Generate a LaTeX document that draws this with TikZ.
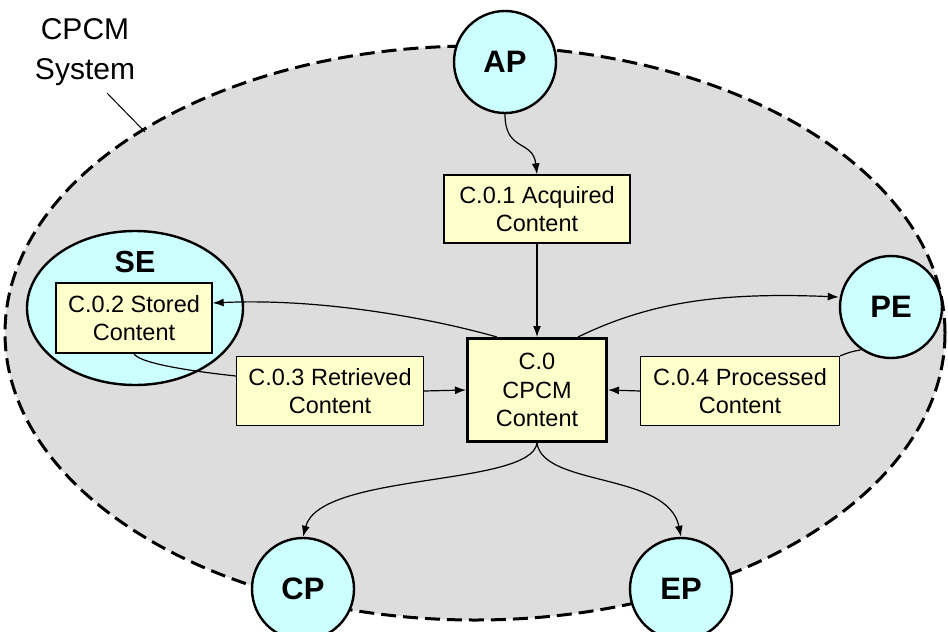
\documentclass[tikz,border=0pt]{standalone}
\usepackage{fontspec}
\setmainfont{Liberation Sans}
\usetikzlibrary{arrows.meta,shapes.geometric}
\definecolor{bggray}{HTML}{DDDDDD}
\definecolor{cyanfill}{HTML}{CCFFFF}
\definecolor{boxfill}{HTML}{FFFFCC}
\tikzset{
  sysell/.style={draw=black, fill=bggray, line width=3pt, dash pattern=on 15pt off 7pt, ellipse},
  actor/.style={circle, draw=black, fill=cyanfill, line width=2.4pt, minimum size=102pt, inner sep=0pt, font=\fontsize{31}{36}\selectfont\bfseries},
  contbox/.style={rectangle, draw=black, fill=boxfill, line width=1.3pt, align=center, inner sep=0pt, font=\fontsize{23.5}{28.5}\selectfont},
  flow/.style={line width=1.2pt, -{Latex[length=11pt,width=8pt]}},
  plain/.style={line width=1.2pt},
}
\begin{document}
\begin{tikzpicture}[x=1pt,y=-1pt]
\useasboundingbox (0,0) rectangle (948,632);
% system boundary
\node[sysell, minimum width=940pt, minimum height=574pt, inner sep=0pt] (sys) at (475,333) {};
\node[font=\fontsize{30}{40}\selectfont, align=center] (syslbl) at (85,52) {CPCM\\System};
\coordinate (lead1) at (107,93);
\coordinate (lead2) at (145,132);
\draw[line width=1pt] (lead1) -- (lead2);
% storage entity
\node[ellipse, draw=black, fill=cyanfill, line width=2.4pt, minimum width=216pt, minimum height=154pt, inner sep=0pt] (se) at (135,308) {};
\node[font=\fontsize{30.5}{36}\selectfont\bfseries] (selbl) at (135,262) {SE};
% actors
\node[actor] (ap) at (505,62) {AP};
\node[actor] (pe) at (891,307) {PE};
\node[actor] (cp) at (303,589) {CP};
\node[actor] (ep) at (681,589) {EP};
% content boxes
\node[contbox, minimum width=186pt, minimum height=68pt] (c01) at (537,209) {C.0.1 Acquired\\Content};
\node[contbox, minimum width=156pt, minimum height=70pt] (c02) at (134,318) {C.0.2 Stored\\Content};
\node[contbox, minimum width=187pt, minimum height=69pt] (c03) at (330,391) {C.0.3 Retrieved\\Content};
\node[contbox, minimum width=199pt, minimum height=69pt] (c04) at (740,391) {C.0.4 Processed\\Content};
\node[contbox, line width=3pt, minimum width=139pt, minimum height=103pt] (c0) at (537,390) {C.0\\CPCM\\Content};
% connectors
\draw[flow] (ap.south) .. controls +(0,38) and +(-4,-35) .. (c01.north);
\draw[flow] (c01.south) -- (c0.north);
\draw[flow] ([xshift=-40pt]c0.north) .. controls (430,318) and (320,298) .. ([yshift=15pt]c02.east);
\draw[flow] ([xshift=41pt]c0.north) .. controls (650,302) and (720,292) .. ([yshift=10pt]pe.west);
\draw[plain] (c02.south) .. controls (138,362) and (180,370) .. ([yshift=15pt]c03.west);
\draw[flow] (c03.east) -- (c0.west);
\draw[plain] (pe.235) .. controls (850,352) .. (c04.north east);
\draw[flow] (c04.west) -- (c0.east);
\draw[flow] (c0.south) .. controls +(-6,44) and (320,472) .. (cp.north);
\draw[flow] (c0.south) .. controls +(6,44) and (668,472) .. (ep.north);
\end{tikzpicture}
\end{document}
